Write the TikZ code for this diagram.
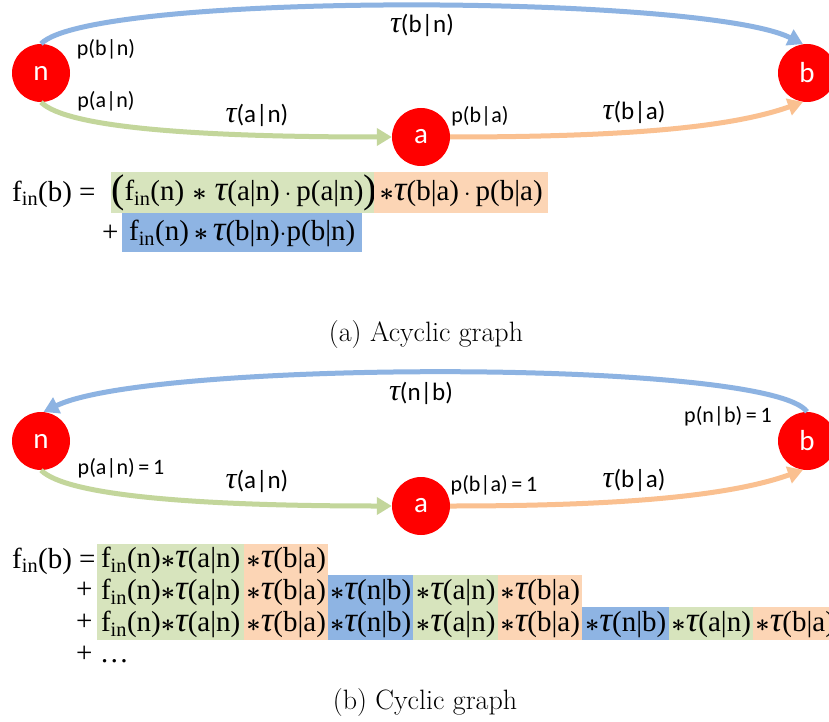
\documentclass[tikz,border=0pt]{standalone}
\usepackage{fontspec}
\usepackage{graphicx}
\usetikzlibrary{arrows.meta}
\newfontfamily\eqfont{Liberation Serif}
\newfontfamily\labfont{Carlito}
\definecolor{nodered}{HTML}{FF0000}
\definecolor{edgeblue}{HTML}{8DB3E2}
\definecolor{edgegreen}{HTML}{C3D69B}
\definecolor{edgeorange}{HTML}{FAC090}
\definecolor{boxblue}{HTML}{8EB4E3}
\definecolor{boxgreen}{HTML}{D7E4BD}
\definecolor{boxorange}{HTML}{FCD5B5}
\newcommand{\tauit}{{\eqfont\itshape\scalebox{1.22}{τ}}}
\newcommand{\fin}{f\textsubscript{in}}
\newcommand{\opast}{{\boldmath$\ast$}}
\newcommand{\bigparen}[1]{{\fontsize{40}{40}\selectfont\raisebox{-1.5pt}{#1}}}

\begin{document}
\begin{tikzpicture}[x=1pt,y=-1pt,
  state/.style={circle,fill=nodered,minimum size=58pt,inner sep=0pt,text=white,
    font=\labfont\fontsize{29}{30}\selectfont},
  edge/.style={line width=5pt,-{Triangle[length=15pt,width=17pt]}},
  lbl/.style={font=\labfont\fontsize{22}{24}\selectfont,inner sep=0pt},
  tlbl/.style={font=\labfont\fontsize{25}{27}\selectfont,inner sep=0pt},
  eq/.style={font=\eqfont\fontsize{29}{32}\selectfont,inner sep=0pt},
  seg/.style={eq,anchor=north west,text height=22pt,text depth=6pt,align=center},
  capt/.style={font=\fontsize{28}{30}\selectfont,inner sep=0pt}
]
\useasboundingbox (0,0) rectangle (829,722);
\fill[white] (0,0) rectangle (829,722);

% ---------- acyclic graph ----------
\node[state] (n1) at (41,73) {n};
\node[state] (a1) at (421,137) {a};
\node[state] (b1) at (807,73) {b};
\draw[edge,edgeblue] (n1.north) .. controls +(50,-52) and +(-100,-50) .. (b1.98);
\draw[edge,edgegreen] (n1.south) .. controls +(25,25) and +(-200,0) .. (a1.west);
\draw[edge,edgeorange] (a1.east) .. controls +(180,0) and +(-70,25) .. (b1.262);

\node[tlbl] (tbn1) at (422,25) {\tauit(b|n)};
\node[lbl] (pbn1) at (106,49) {p(b|n)};
\node[lbl] (pan1) at (106,101) {p(a|n)};
\node[tlbl] (tan1) at (257,115) {\tauit(a|n)};
\node[lbl] (pba1) at (480,116) {p(b|a)};
\node[tlbl] (tba1) at (634,112) {\tauit(b|a)};

% equation for the acyclic graph
\node[eq,anchor=base west] (lhs1) at (12,201) {\fin(b) =};
\node[seg,fill=boxgreen,minimum width=263pt,minimum height=41pt] (e1g) at (111,172)
  {\bigparen{(}\fin(n)\;\opast\;\tauit(a|n)\,$\cdot$\,p(a|n)\bigparen{)}};
\node[seg,fill=boxorange,minimum width=174pt,minimum height=41pt] (e1o) at (374,172)
  {\opast\tauit(b|a)\,$\cdot$\,p(b|a)};
\node[eq,anchor=base west] (plus1) at (102,241) {+};
\node[seg,fill=boxblue,minimum width=240pt,minimum height=39pt] (e2b) at (122,213)
  {\fin(n)\,\opast\,\tauit(b|n)$\cdot$p(b|n)};

\node[capt] (capa) at (426,335) {(a)\ Acyclic graph};

% ---------- cyclic graph ----------
\node[state] (n2) at (41,441) {n};
\node[state] (a2) at (421,506) {a};
\node[state] (b2) at (807,441) {b};
\draw[edge,edgeblue] (b2.north) .. controls +(-37,-53) and +(107,-52) .. (n2.85);
\draw[edge,edgegreen] (n2.south) .. controls +(25,25) and +(-200,0) .. (a2.west);
\draw[edge,edgeorange] (a2.east) .. controls +(180,0) and +(-70,25) .. (b2.262);

\node[tlbl] (tnb2) at (421,393) {\tauit(n|b)};
\node[lbl] (pnb2) at (728,416) {p(n|b)\,=\,1};
\node[lbl] (pan2) at (121,468) {p(a|n)\,=\,1};
\node[tlbl] (tan2) at (257,481) {\tauit(a|n)};
\node[lbl] (pba2) at (494,485) {p(b|a)\,=\,1};
\node[tlbl] (tba2) at (634,480) {\tauit(b|a)};

% series expansion for the cyclic graph
\node[eq,anchor=base west] (lhs2) at (12,568) {\fin(b) =};
% row 1
\node[seg,fill=boxgreen,minimum width=147pt,minimum height=31pt] (r1a) at (97,544) {\fin(n)\opast\tauit(a|n)};
\node[seg,fill=boxorange,minimum width=84pt,minimum height=31pt] (r1b) at (244,544) {\opast\tauit(b|a)};
% row 2
\node[eq,anchor=base west] (plus2) at (76,598) {+};
\node[seg,fill=boxgreen,minimum width=147pt,minimum height=32pt] (r2a) at (97,575) {\fin(n)\opast\tauit(a|n)};
\node[seg,fill=boxorange,minimum width=84pt,minimum height=32pt] (r2b) at (244,575) {\opast\tauit(b|a)};
\node[seg,fill=boxblue,minimum width=85pt,minimum height=32pt] (r2c) at (328,575) {\opast\tauit(n|b)};
\node[seg,fill=boxgreen,minimum width=85pt,minimum height=32pt] (r2d) at (413,575) {\opast\tauit(a|n)};
\node[seg,fill=boxorange,minimum width=84pt,minimum height=32pt] (r2e) at (498,575) {\opast\tauit(b|a)};
% row 3
\node[eq,anchor=base west] (plus3) at (76,630) {+};
\node[seg,fill=boxgreen,minimum width=147pt,minimum height=33pt] (r3a) at (97,607) {\fin(n)\opast\tauit(a|n)};
\node[seg,fill=boxorange,minimum width=84pt,minimum height=33pt] (r3b) at (244,607) {\opast\tauit(b|a)};
\node[seg,fill=boxblue,minimum width=85pt,minimum height=33pt] (r3c) at (328,607) {\opast\tauit(n|b)};
\node[seg,fill=boxgreen,minimum width=85pt,minimum height=33pt] (r3d) at (413,607) {\opast\tauit(a|n)};
\node[seg,fill=boxorange,minimum width=84pt,minimum height=33pt] (r3e) at (498,607) {\opast\tauit(b|a)};
\node[seg,fill=boxblue,minimum width=87pt,minimum height=33pt] (r3f) at (582,607) {\opast\tauit(n|b)};
\node[seg,fill=boxgreen,minimum width=84pt,minimum height=33pt] (r3g) at (669,607) {\opast\tauit(a|n)};
\node[seg,fill=boxorange,minimum width=84pt,minimum height=33pt] (r3h) at (753,607) {\opast\tauit(b|a)};
% row 4
\node[eq,anchor=base west] (plus4) at (76,662) {+ …};

\node[capt] (capb) at (425,703) {(b)\ Cyclic graph};
\end{tikzpicture}
\end{document}
